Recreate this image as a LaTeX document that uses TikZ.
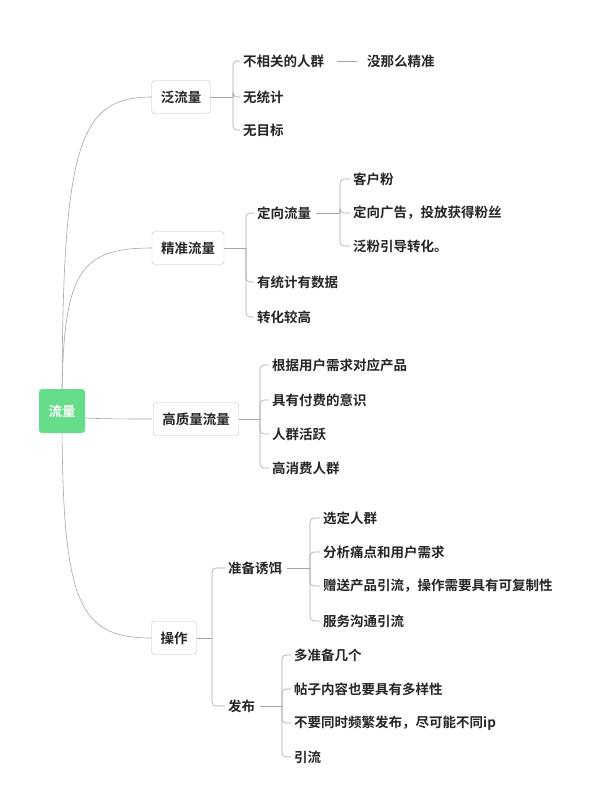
\documentclass[tikz,border=0pt]{standalone}
\usetikzlibrary{calc}
\usepackage{fontspec}
\newfontfamily\cjk{Noto Sans CJK SC}[BoldFont={* Bold}]
\begin{document}
\begin{tikzpicture}[x=1pt,y=-1pt,
  t/.style={anchor=west,inner sep=0pt,font=\cjk\bfseries\fontsize{13.5}{15}\selectfont,text=black!85},
  box/.style={draw=black!25,rounded corners=3pt,fill=white,minimum height=33pt,inner xsep=9pt,font=\cjk\bfseries\fontsize{13.5}{15}\selectfont,text=black!85},
  ln/.style={draw=black!35,line width=0.6pt},
  br/.style={ln,rounded corners=4pt}]
\useasboundingbox (0,0) rectangle (611,798);
\foreach \y in {97,248,419,638}
  \draw[ln] (62,411) .. controls (62,{0.15*411+0.85*\y}) and (78,\y) .. (152,\y);
\node[fill=green!55!teal!60,rounded corners=3pt,minimum width=46pt,minimum height=44pt,inner xsep=2pt,text=white,font=\cjk\bfseries\fontsize{13.5}{15}\selectfont] (root) at (62,411) {流量};
\node[box] (a) at (181,97) {泛流量};
\node[box] (b) at (188,248) {精准流量};
\node[box] (c) at (196,419) {高质量流量};
\node[box] (d) at (174,638) {操作};
% a
\node[t] (a1) at (243,61) {不相关的人群};
\node[t] (a2) at (243,97) {无统计};
\node[t] (a3) at (243,130) {无目标};
\node[t] (a4) at (367,61) {没那么精准};
\draw[ln] (337,61) -- (357,61);
\draw[ln] (a.east) -- (233,97);
\foreach \c in {a1,a2,a3} \draw[br] (233,97) |- ($(\c.west)+(-3,0)$);
% b
\node[t] (b1) at (257,213) {定向流量};
\node[t] (b2) at (257,282) {有统计有数据};
\node[t] (b3) at (257,317) {转化较高};
\draw[ln] (b.east) -- (246,248);
\foreach \c in {b1,b2,b3} \draw[br] (246,248) |- ($(\c.west)+(-3,0)$);
\node[t] (b11) at (353,179) {客户粉};
\node[t] (b12) at (353,213) {定向广告，投放获得粉丝};
\node[t] (b13) at (353,246) {泛粉引导转化。};
\draw[ln] ($(b1.east)+(5,0)$) -- (340,213);
\foreach \c in {b11,b12,b13} \draw[br] (340,213) |- ($(\c.west)+(-3,0)$);
% c
\node[t] (c1) at (272,365) {根据用户需求对应产品};
\node[t] (c2) at (272,400) {具有付费的意识};
\node[t] (c3) at (272,434) {人群活跃};
\node[t] (c4) at (272,468) {高消费人群};
\draw[ln] (c.east) -- (260,419);
\foreach \c in {c1,c2,c3,c4} \draw[br] (260,419) |- ($(\c.west)+(-3,0)$);
% d
\node[t] (d1) at (228,568) {准备诱饵};
\node[t] (d2) at (228,706) {发布};
\draw[ln] (d.east) -- (212,638);
\foreach \c in {d1,d2} \draw[br] (212,638) |- ($(\c.west)+(-3,0)$);
\node[t] (e1) at (323,518) {选定人群};
\node[t] (e2) at (323,552) {分析痛点和用户需求};
\node[t] (e3) at (323,586) {赠送产品引流，操作需要具有可复制性};
\node[t] (e4) at (323,621) {服务沟通引流};
\draw[ln] ($(d1.east)+(5,0)$) -- (310,568);
\foreach \c in {e1,e2,e3,e4} \draw[br] (310,568) |- ($(\c.west)+(-3,0)$);
\node[t] (f1) at (294,655) {多准备几个};
\node[t] (f2) at (294,689) {帖子内容也要具有多样性};
\node[t] (f3) at (294,723) {不要同时频繁发布，尽可能不同ip};
\node[t] (f4) at (294,757) {引流};
\draw[ln] ($(d2.east)+(5,0)$) -- (282,706);
\foreach \c in {f1,f2,f3,f4} \draw[br] (282,706) |- ($(\c.west)+(-3,0)$);
\end{tikzpicture}
\end{document}
